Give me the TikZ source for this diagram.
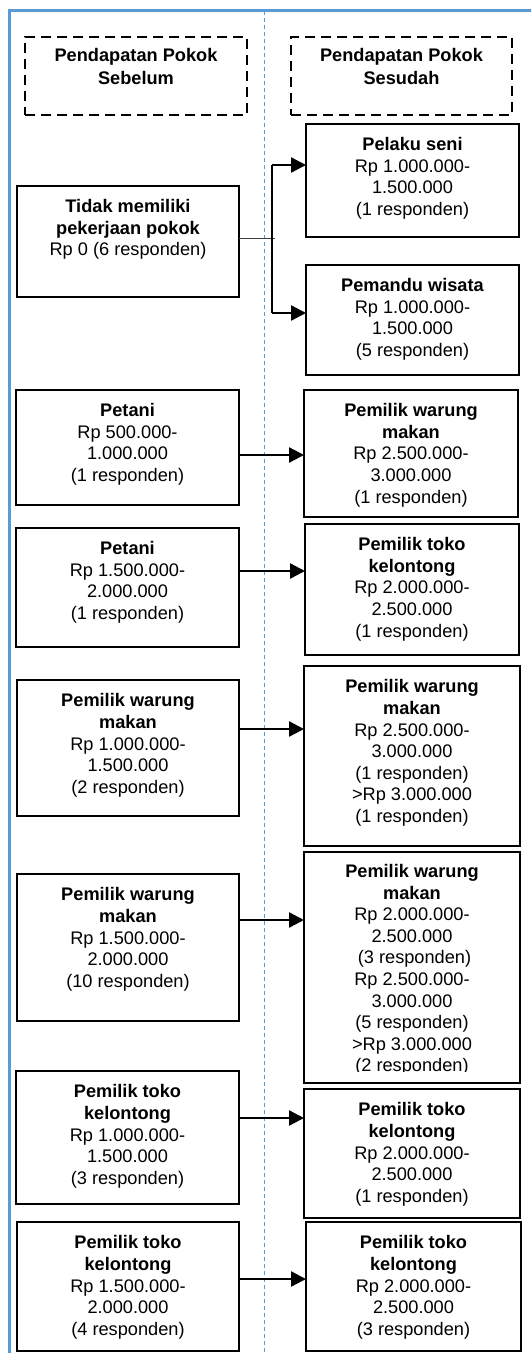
\documentclass[tikz,border=0pt]{standalone}
\usepackage{fontspec}
\setmainfont{Liberation Sans}
\usetikzlibrary{arrows.meta,calc}
\definecolor{frameblue}{RGB}{91,155,213}

% box with its text set from the top edge: name, x1, y1, x2, y2, text
\newcommand{\infobox}[6]{%
  \node[boxframe, minimum width={#4-#2}, minimum height={#5-#3}] (#1) at (#2,#3) {};
  \node[boxtext] (#1t) at ([yshift=-13.4pt]#1.north) {#6};}
% dashed column heading: name, x1, y1, x2, y2, text
\newcommand{\headbox}[6]{%
  \node[headframe, minimum width={#4-#2}, minimum height={#5-#3}] (#1) at (#2,#3) {};
  \node[headtext] (#1t) at ([yshift=-11.4pt]#1.north) {#6};}

\begin{document}
\begin{tikzpicture}[x=1pt,y=-1pt,
  boxframe/.style={draw, line width=2.6pt, rectangle, inner sep=0pt, outer sep=0pt, anchor=north west},
  headframe/.style={boxframe, dash pattern=on 10pt off 6pt},
  boxtext/.style={inner sep=0pt, align=center, anchor=north,
    font=\fontsize{18.2}{21.6}\selectfont, execute at begin node=\strut},
  headtext/.style={boxtext, font=\fontsize{18.2}{23}\selectfont\bfseries},
  arr/.style={line width=2.4pt, -{Triangle[length=15pt,width=15pt]}},
  branch/.style={line width=1.6pt},
  feed/.style={line width=1pt, black!75},
  frame/.style={draw=frameblue, line width=2.8pt},
  divider/.style={draw=frameblue, line width=1pt, dash pattern=on 4pt off 3pt}]
\useasboundingbox (0,0) rectangle (531,1353);
\clip (0,0) rectangle (531,1353);

% outer frame and column divider
\draw[frame] (9.3,1370) -- (9.3,10.5) -- (545,10.5);
\coordinate (dtop) at (264,11);
\coordinate (dbot) at (264,1353);
\draw[divider] (dtop) -- (dbot);

% column headings
\headbox{H1}{25}{37}{247}{115}{Pendapatan Pokok\\Sebelum}
\headbox{H2}{291}{37}{512}{115}{Pendapatan Pokok\\Sesudah}

% left column: income before
\infobox{L1}{17}{186}{239}{297}{\textbf{Tidak memiliki}\\\textbf{pekerjaan pokok}\\Rp 0 (6 responden)}
\infobox{L2}{16}{390}{239}{505}{\textbf{Petani}\\Rp 500.000-\\1.000.000\\(1 responden)}
\infobox{L3}{16}{528}{239}{647}{\textbf{Petani}\\Rp 1.500.000-\\2.000.000\\(1 responden)}
\infobox{L4}{17}{680}{239}{816}{\textbf{Pemilik warung}\\\textbf{makan}\\Rp 1.000.000-\\1.500.000\\(2 responden)}
\infobox{L5}{17}{874}{239}{1021}{\textbf{Pemilik warung}\\\textbf{makan}\\Rp 1.500.000-\\2.000.000\\(10 responden)}
\infobox{L6}{16}{1071}{239}{1204}{\textbf{Pemilik toko}\\\textbf{kelontong}\\Rp 1.000.000-\\1.500.000\\(3 responden)}
\infobox{L7}{17}{1222}{239}{1351}{\textbf{Pemilik toko}\\\textbf{kelontong}\\Rp 1.500.000-\\2.000.000\\(4 responden)}

% right column: income after
\infobox{R1}{306}{124}{519}{237}{\textbf{Pelaku seni}\\Rp 1.000.000-\\1.500.000\\(1 responden)}
\infobox{R2}{306}{265}{519}{375}{\textbf{Pemandu wisata}\\Rp 1.000.000-\\1.500.000\\(5 responden)}
\infobox{R3}{304}{390}{518}{517}{\textbf{Pemilik warung}\\\textbf{makan}\\Rp 2.500.000-\\3.000.000\\(1 responden)}
\infobox{R4}{305}{524}{519}{655}{\textbf{Pemilik toko}\\\textbf{kelontong}\\Rp 2.000.000-\\2.500.000\\(1 responden)}
\infobox{R5}{304}{666}{520}{846}{\textbf{Pemilik warung}\\\textbf{makan}\\Rp 2.500.000-\\3.000.000\\(1 responden)\\>Rp 3.000.000\\(1 responden)}
\node[boxframe, minimum width=216, minimum height=231] (R6) at (304,852) {};
\begin{scope}
  \clip (300,852) rectangle (524,1071.5);
  \node[boxtext] (R6t) at ([yshift=-12pt]R6.north) {\textbf{Pemilik warung}\\\textbf{makan}\\Rp 2.000.000-\\2.500.000\\~(3 responden)\\Rp 2.500.000-\\3.000.000\\(5 responden)\\>Rp 3.000.000\\(2 responden)};
\end{scope}
\infobox{R7}{304}{1089}{520}{1218}{\textbf{Pemilik toko}\\\textbf{kelontong}\\Rp 2.000.000-\\2.500.000\\(1 responden)}
\infobox{R8}{306}{1222}{521}{1351}{\textbf{Pemilik toko}\\\textbf{kelontong}\\Rp 2.000.000-\\2.500.000\\(3 responden)}

% branching connector from the first box
\coordinate (j1) at (272,165);
\coordinate (j2) at (272,313);
\coordinate (jx) at (275,238);
\draw[feed] ([yshift=-52pt]L1.north east) -- (jx);
\draw[branch] (j1) -- (j2);
\draw[arr] (j1) -- (j1 -| R1.west);
\draw[arr] (j2) -- (j2 -| R2.west);

% straight connectors
\draw[arr] ([yshift=-65pt]L2.north east) coordinate (a2) -- (a2 -| R3.west);
\draw[arr] ([yshift=-43pt]L3.north east) coordinate (a3) -- (a3 -| R4.west);
\draw[arr] ([yshift=-49pt]L4.north east) coordinate (a4) -- (a4 -| R5.west);
\draw[arr] ([yshift=-46pt]L5.north east) coordinate (a5) -- (a5 -| R6.west);
\draw[arr] ([yshift=-47pt]L6.north east) coordinate (a6) -- (a6 -| R7.west);
\draw[arr] ([yshift=-57pt]L7.north east) coordinate (a7) -- (a7 -| R8.west);
\end{tikzpicture}
\end{document}
